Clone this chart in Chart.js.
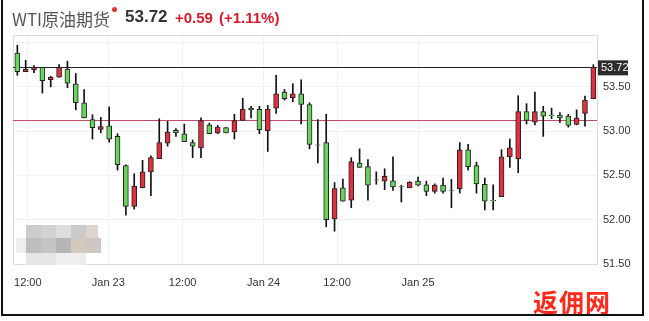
<!DOCTYPE html>
<html lang="zh">
<head>
<meta charset="UTF-8">
<title>WTI原油期货</title>
<script src="https://cdn.jsdelivr.net/npm/chart.js"></script>
<style>
  body { margin: 0; background: #fff; }
  #wrap { position: relative; width: 649px; height: 321px; overflow: hidden; }
  #frame { position: absolute; left: 1px; top: -4px; width: 643px; height: 320px; border: 2px solid #111; box-sizing: border-box; pointer-events: none; }
  .t { position: absolute; top: 7px; font-family: "Liberation Sans", Arial, sans-serif; white-space: nowrap; }
  #name { left: 12px; top: 6px; font-family: "Noto Sans CJK SC", sans-serif; font-size: 17px; color: #555; }
  #dot { left: 112px; top: 7px; width: 5px; height: 5px; border-radius: 3px; background: #e0312e; }
  #price { left: 125px; font-size: 17px; font-weight: bold; color: #333; }
  #chg { left: 175px; top: 9px; font-size: 15px; font-weight: bold; color: #d8192a; }
  #pct { left: 219px; top: 9px; font-size: 15px; font-weight: bold; color: #d8192a; }
  #mark { position: absolute; left: 533px; top: 283px; font-family: "Noto Sans CJK SC", sans-serif; font-size: 25px; font-weight: bold; color: #ff2a1a; letter-spacing: 1px; }
</style>
</head>
<body>
<div id="wrap">
  <canvas id="chart" width="649" height="321"></canvas>
  <div class="t" id="name">WTI原油期货</div>
  <div class="t" id="dot"></div>
  <div class="t" id="price">53.72</div>
  <div class="t" id="chg">+0.59</div>
  <div class="t" id="pct">(+1.11%)</div>
  <div id="mark">返佣网</div>
  <div id="frame"></div>
</div>
<script>
  // candles, oldest first
  const opens = [53.88, 53.67, 53.69, 53.72, 53.58, 53.61, 53.70, 53.535, 53.32, 53.13,
    53.02, 53.06, 52.94, 52.61, 52.15, 52.36, 52.54, 52.69, 52.865, 53.01,
    52.97, 52.87, 52.81, 53.07, 52.98, 53.04, 52.99, 53.12, 53.26, 53.245,
    53.005, 53.26, 53.44, 53.375, 53.42, 53.30, 52.845, 52.87, 52.01, 52.36,
    52.22, 52.64, 52.60, 52.45, 52.435, 52.44, 52.375, 52.36, 52.435, 52.395,
    52.32, 52.39, 52.335, 52.35, 52.79, 52.61, 52.40, 52.22, 52.26, 52.71,
    52.69, 53.22, 53.10, 53.22, 53.18, 53.18, 53.17, 53.075, 53.20, 53.365];
  const closes = [53.67, 53.70, 53.72, 53.57, 53.61, 53.72, 53.54, 53.32, 53.15, 53.04,
    53.05, 52.91, 52.62, 52.15, 52.38, 52.54, 52.70, 52.87, 52.99, 52.98,
    52.88, 52.83, 53.12, 52.97, 53.045, 52.98, 53.12, 53.25, 53.24, 53.015,
    53.25, 53.42, 53.365, 53.42, 53.30, 52.85, 52.84, 52.00, 52.35, 52.21,
    52.655, 52.59, 52.39, 52.445, 52.49, 52.37, 52.37, 52.425, 52.39, 52.32,
    52.39, 52.32, 52.33, 52.79, 52.60, 52.405, 52.21, 52.215, 52.71, 52.81,
    53.22, 53.12, 53.22, 53.17, 53.175, 53.15, 53.065, 53.15, 53.35, 53.72];
  const highs = [53.97, 53.80, 53.74, 53.72, 53.62, 53.75, 53.79, 53.65, 53.47, 53.185,
    53.155, 53.275, 52.97, 52.62, 52.52, 52.67, 52.72, 53.14, 53.11, 53.03,
    53.08, 52.90, 53.15, 53.09, 53.065, 53.04, 53.19, 53.37, 53.28, 53.28,
    53.29, 53.63, 53.47, 53.535, 53.58, 53.32, 53.13, 53.19, 52.42, 52.46,
    52.70, 52.80, 52.68, 52.54, 52.575, 52.71, 52.39, 52.43, 52.48, 52.435,
    52.405, 52.47, 52.455, 52.87, 52.85, 52.65, 52.47, 52.395, 52.79, 52.91,
    53.40, 53.31, 53.44, 53.28, 53.26, 53.21, 53.19, 53.24, 53.395, 53.75];
  const lows = [53.63, 53.67, 53.66, 53.43, 53.50, 53.61, 53.49, 53.24, 53.15, 52.91,
    52.98, 52.875, 52.56, 52.05, 52.12, 52.36, 52.27, 52.69, 52.83, 52.94,
    52.88, 52.70, 52.70, 52.97, 52.97, 52.98, 52.91, 53.12, 53.15, 52.97,
    52.77, 53.20, 53.35, 53.33, 53.08, 52.80, 52.64, 51.92, 51.87, 52.21,
    52.135, 52.59, 52.22, 52.40, 52.34, 52.33, 52.20, 52.36, 52.38, 52.27,
    52.30, 52.30, 52.135, 52.30, 52.56, 52.30, 52.11, 52.11, 52.26, 52.59,
    52.53, 53.08, 53.07, 52.94, 53.14, 53.095, 53.045, 53.07, 53.055, 53.365];

  const lastPrice = 53.72;
  const prevClose = 53.13;

  // x tick positions in candle index units
  const xTickPos = [1.25, 10.9, 19.8, 29.5, 38.3, 48.0];
  const xTickLabels = ['12:00', 'Jan 23', '12:00', 'Jan 24', '12:00', 'Jan 25'];
  const yTicks = [51.5, 52, 52.5, 53, 53.5, 54];

  const UP = '#e0303d', DOWN = '#68d45c';

  const linesPlugin = {
    id: 'lines',
    beforeDatasetsDraw(chart) {
      const { ctx, chartArea: a, scales: { y } } = chart;
      ctx.save();
      ctx.lineWidth = 1;
      ctx.strokeStyle = '#ddd';
      ctx.strokeRect(a.left + 0.5, a.top + 0.5, a.width, a.height);
      const ly = Math.round(y.getPixelForValue(lastPrice)) + 0.5;
      const py = Math.round(y.getPixelForValue(prevClose)) + 0.5;
      ctx.strokeStyle = '#c44a6a';
      ctx.beginPath(); ctx.moveTo(a.left, py); ctx.lineTo(a.right, py); ctx.stroke();
      ctx.strokeStyle = '#222';
      ctx.beginPath(); ctx.moveTo(a.left, ly); ctx.lineTo(a.right, ly); ctx.stroke();
      ctx.restore();
    },
    afterDraw(chart) {
      const { ctx, chartArea: a, scales: { y } } = chart;
      const ly = y.getPixelForValue(lastPrice);
      ctx.save();
      ctx.fillStyle = '#2c2c2c';
      ctx.fillRect(a.right + 1, ly - 7, 30, 15);
      ctx.fillStyle = '#fff';
      ctx.font = '11px "Liberation Sans", Arial, sans-serif';
      ctx.textBaseline = 'middle';
      ctx.fillText(lastPrice.toFixed(2), a.right + 4, ly + 1);
      // blurred logo area
      const blocks = [
        [26, 225, 15, 13, '#cccccc'], [41, 225, 15, 13, '#d2d2d2'], [56, 225, 15, 13, '#dddddd'],
        [71, 225, 15, 13, '#cbcbcb'], [86, 225, 12, 13, '#ddd6cd'],
        [16, 238, 10, 15, '#eeeeee'], [26, 238, 15, 15, '#bdbdbd'], [41, 238, 15, 15, '#c4c4c4'],
        [56, 238, 15, 15, '#b6b6b6'], [71, 238, 15, 15, '#d4c9bd'], [86, 238, 15, 15, '#cfc7c1'],
        [26, 253, 30, 12, '#e6e6e6'], [56, 253, 30, 12, '#eeeeee']
      ];
      blocks.forEach(b => { ctx.fillStyle = b[4]; ctx.fillRect(b[0], b[1], b[2], b[3]); });
      ctx.restore();
    }
  };

  new Chart(document.getElementById('chart'), {
    type: 'bar',
    data: {
      datasets: [
        {
          label: 'wick',
          data: lows.map((l, i) => ({ x: i, y: [l, highs[i]] })),
          backgroundColor: '#111',
          barThickness: 1,
          grouped: false,
          order: 2
        },
        {
          label: 'body',
          data: opens.map((o, i) => ({ x: i, y: [o, closes[i]] })),
          backgroundColor: opens.map((o, i) => closes[i] >= o ? UP : DOWN),
          borderColor: '#222',
          borderWidth: 1,
          borderSkipped: false,
          barThickness: 5,
          grouped: false,
          order: 1
        }
      ]
    },
    options: {
      responsive: false,
      animation: false,
      layout: { padding: { left: 13, top: 35, right: 6, bottom: 6 } },
      plugins: { legend: { display: false }, tooltip: { enabled: false } },
      scales: {
        x: {
          type: 'linear',
          offset: false,
          min: -0.52,
          max: 69.44,
          afterBuildTicks: s => { s.ticks = xTickPos.map(v => ({ value: v })); },
          afterFit: s => { s.height = 51; },
          ticks: {
            callback: (v, i) => xTickLabels[i],
            maxRotation: 0,
            autoSkip: false,
            padding: 12,
            color: '#333',
            font: { family: '"Liberation Sans", Arial, sans-serif', size: 11 }
          },
          grid: { color: '#f1f1f1', drawTicks: false, offset: false },
          border: { display: false }
        },
        y: {
          position: 'right',
          min: 51.5,
          max: 54.085,
          afterBuildTicks: s => { s.ticks = yTicks.map(v => ({ value: v })); },
          afterFit: s => { s.width = 46; },
          ticks: {
            callback: v => v === 54 ? '' : v.toFixed(2),
            padding: 6,
            color: '#333',
            font: { family: '"Liberation Sans", Arial, sans-serif', size: 11 }
          },
          grid: { color: '#f1f1f1', drawTicks: false },
          border: { display: false }
        }
      }
    },
    plugins: [linesPlugin]
  });
</script>
</body>
</html>
